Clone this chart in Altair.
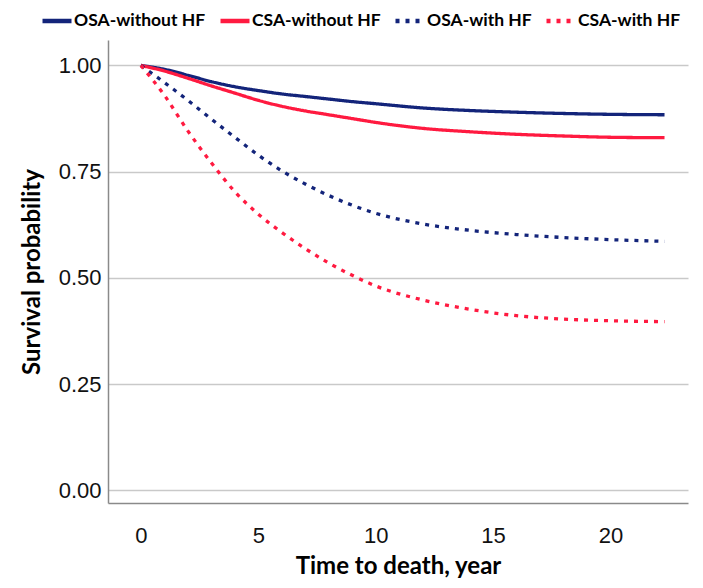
import altair as alt
import pandas as pd

years = [0, 1, 2, 3, 4, 5, 6, 7, 8, 9, 10, 12, 14, 16, 18, 20, 22.3]
osa_without_hf = [1.0, 0.991, 0.977, 0.962, 0.950, 0.941, 0.933, 0.927, 0.921, 0.915, 0.910, 0.900, 0.894, 0.890, 0.887, 0.885, 0.884]
csa_without_hf = [1.0, 0.987, 0.970, 0.952, 0.935, 0.918, 0.904, 0.893, 0.884, 0.875, 0.866, 0.852, 0.844, 0.838, 0.834, 0.831, 0.830]
osa_with_hf = [1.0, 0.960, 0.918, 0.874, 0.831, 0.789, 0.752, 0.721, 0.694, 0.671, 0.652, 0.627, 0.612, 0.602, 0.595, 0.590, 0.586]
csa_with_hf = [1.0, 0.930, 0.846, 0.771, 0.703, 0.650, 0.607, 0.569, 0.535, 0.506, 0.481, 0.448, 0.426, 0.411, 0.403, 0.399, 0.397]

series_names = ["OSA-without HF", "CSA-without HF", "OSA-with HF", "CSA-with HF"]
series_values = [osa_without_hf, csa_without_hf, osa_with_hf, csa_with_hf]
series_colors = ["#13247a", "#ff1a40", "#13247a", "#ff1a40"]
series_dash = [[1, 0], [1, 0], [4, 6], [4, 6]]

rows = []
for name, vals in zip(series_names, series_values):
    for t, v in zip(years, vals):
        rows.append({"year": t, "surv": v, "group": name})
df = pd.DataFrame(rows)

legend_props = dict(title=None, orient="none", direction="horizontal",
                    legendX=-68, legendY=-36, symbolType="stroke",
                    symbolSize=841, symbolStrokeWidth=4.5,
                    labelFont="Lato", labelFontWeight="bold", labelFontSize=17.5,
                    labelColor="#000000", columnPadding=5, labelOffset=0)

chart = alt.Chart(df).mark_line(strokeWidth=3.3, clip=True, interpolate="monotone").encode(
    x=alt.X("year:Q",
            scale=alt.Scale(domain=[-1.4, 23.3], nice=False, zero=False),
            axis=alt.Axis(values=[0, 5, 10, 15, 20], title="Time to death, year", grid=False,
                          ticks=False, labelPadding=22, titlePadding=8)),
    y=alt.Y("surv:Q",
            scale=alt.Scale(domain=[-0.03, 1.06], nice=False, zero=False),
            axis=alt.Axis(values=[0, 0.25, 0.5, 0.75, 1.0], format=".2f", title="Survival probability",
                          grid=True, ticks=False, labelPadding=7, titlePadding=14)),
    color=alt.Color("group:N", scale=alt.Scale(domain=series_names, range=series_colors),
                    legend=alt.Legend(**legend_props)),
    strokeDash=alt.StrokeDash("group:N", scale=alt.Scale(domain=series_names, range=series_dash),
                              legend=alt.Legend(**legend_props)),
    detail="group:N",
).properties(
    width=580, height=463,
    autosize=alt.AutoSizeParams(type="none"),
    padding={"left": 100, "top": 32, "right": 7, "bottom": 77},
).configure_view(stroke=None).configure_axis(
    labelFont="Liberation Sans", labelFontSize=22, labelColor="#111111",
    titleFont="Lato", titleFontSize=24, titleFontWeight="bold", titleColor="#000000",
    domainColor="#8a8a8a", domainWidth=1.5, gridColor="#c9c9c9", gridWidth=1.5,
)

chart.save("out.html", embed_options={"renderer": "svg", "actions": False})
